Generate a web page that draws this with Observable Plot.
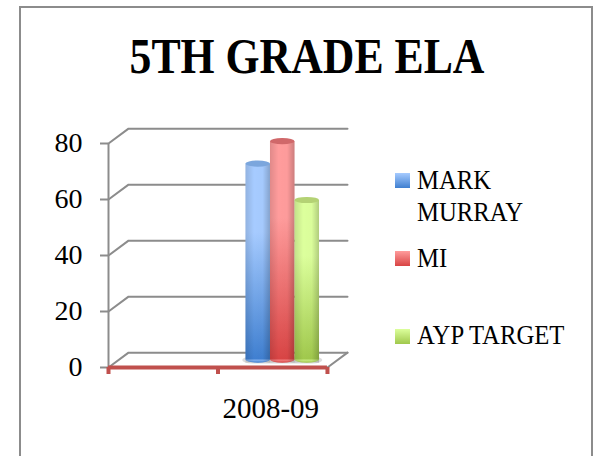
<!DOCTYPE html>
<html><head><meta charset="utf-8">
<script src="https://cdn.jsdelivr.net/npm/d3@7"></script>
<script src="https://cdn.jsdelivr.net/npm/@observablehq/plot@0.6"></script>
<style>
html,body{margin:0;padding:0;background:#fff}
#frame{position:absolute;left:0;top:0;width:593px;height:456px;overflow:hidden;font-family:"Liberation Serif",serif;color:#000}
#border{position:absolute;left:19px;top:6px;width:570px;height:470px;border:2px solid #8c8c8c}
#title{position:absolute;left:20px;width:574px;top:24px;text-align:center;font-size:50px;font-weight:bold;line-height:64px;white-space:nowrap;transform:scaleX(0.875);transform-origin:center}
#chart{position:absolute;left:0;top:0}
#chart svg{display:block}
.lg{position:absolute;left:417px;font-size:27px;line-height:32px;white-space:nowrap;transform:scaleX(0.915);transform-origin:left}
.sw{position:absolute;left:395px;width:15px;height:15px}
</style></head><body>
<div id="frame"><div id="border"></div><div id="title"></div><div id="chart"></div><div id="legend"></div></div>
<script>
const titleText = "5TH GRADE ELA";
const categories = ["", "2008-09"];
const series = ["MARK MURRAY", "MI", "AYP TARGET"];
const values = [70, 78, 57];
const ticks = [0, 20, 40, 60, 80];
const light = ["#a6cbff", "#ff9c9c", "#dcff9c"];
const dark = ["#3f7fd0", "#d84444", "#a0c84c"];
const capColor = ["#7ba6dd", "#d0686a", "#b4d274"];

const depthX = 0.183, depthY = 5.3;   // oblique offset of back wall
const barW = 0.224, barCentre = 1.5 + depthX / 2;

const gridPts = ticks.flatMap(v => [
  {z: v, x: 0, y: v},
  {z: v, x: depthX, y: v + depthY},
  {z: v, x: 2 + depthX, y: v + depthY}
]);
const floorEdge = [{x: 2, y: 0}, {x: 2 + depthX, y: depthY}];
const bars = values.map((v, i) => ({
  i, v, name: series[i],
  x1: barCentre + (i - 1) * barW - barW / 2,
  x2: barCentre + (i - 1) * barW + barW / 2,
  y0: depthY / 2,
  top: v + depthY / 2
}));

const defs = () => {
  const ns = "http://www.w3.org/2000/svg";
  const d = document.createElementNS(ns, "defs");
  d.innerHTML = series.map((s, i) =>
    `<linearGradient id="g${i}" x1="0" y1="0" x2="0" y2="1"><stop offset="0" stop-color="${light[i]}"/><stop offset="0.35" stop-color="${light[i]}"/><stop offset="1" stop-color="${dark[i]}"/></linearGradient>`).join("") +
    `<linearGradient id="shade" x1="0" y1="0" x2="1" y2="0"><stop offset="0" stop-color="#000" stop-opacity="0.12"/><stop offset="0.35" stop-color="#000" stop-opacity="0"/><stop offset="0.7" stop-color="#000" stop-opacity="0.01"/><stop offset="1" stop-color="#000" stop-opacity="0.2"/></linearGradient>`;
  return d;
};

const capH = 1.1;
const plot = Plot.plot({
  width: 593, height: 456,
  marginLeft: 108, marginRight: 246, marginTop: 127, marginBottom: 89,
  style: {background: "transparent", fontFamily: "'Liberation Serif',serif", overflow: "visible"},
  x: {type: "linear", domain: [0, 2 + depthX], axis: null},
  y: {type: "linear", domain: [0, 240 / 2.8], axis: null},
  marks: [
    defs,
    Plot.line(gridPts, {x: "x", y: "y", z: "z", stroke: "#8c8c8c", strokeWidth: 2}),
    Plot.line(floorEdge, {x: "x", y: "y", stroke: "#8c8c8c", strokeWidth: 2}),
    Plot.ruleX([0], {y1: 0, y2: 80, stroke: "#8c8c8c", strokeWidth: 2}),
    Plot.axisY(ticks, {anchor: "left", tickSize: 8, tickPadding: 18, stroke: "#8c8c8c", strokeWidth: 2, fontSize: 28, fill: "#000", label: null, tickFormat: d => d}),
    Plot.rect([bars[0]], {x1: d => bars[0].x1 - 0.03, x2: d => bars[2].x2 + 0.03, y1: d => d.y0 - capH - 0.3, y2: d => d.y0 + capH, fill: "#c4c4c4", fillOpacity: 0.6, rx: 10}),
    Plot.rect(bars, {x1: "x1", x2: "x2", y1: d => d.y0 - capH, y2: d => d.y0 + capH, fill: d => `url(#g${d.i})`, rx: 12}),
    Plot.rect(bars, {x1: "x1", x2: "x2", y1: "y0", y2: "top", fill: d => `url(#g${d.i})`}),
    Plot.rect(bars, {x1: "x1", x2: "x2", y1: d => d.y0 - capH, y2: "top", fill: "url(#shade)"}),
    Plot.rect(bars, {x1: "x1", x2: "x2", y1: d => d.top - capH, y2: d => d.top + capH, fill: d => capColor[d.i], rx: 12}),
    Plot.ruleY([0], {x1: 0, x2: 2, stroke: "#c0504d", strokeWidth: 4}),
    Plot.ruleX([0, 1, 2], {y1: 0, y2: -2.5, stroke: "#c0504d", strokeWidth: 4}),
    Plot.text([categories[1]], {x: 1.5, y: 0, dx: -2, dy: 41, text: d => d, fontSize: 29, fill: "#000"})
  ]
});
document.getElementById("chart").append(plot);
document.getElementById("title").textContent = titleText;

const legendTop = [168, 246, 323];
const swTop = [173, 251, 329];
const lg = document.getElementById("legend");
series.forEach((s, i) => {
  const sw = document.createElement("div");
  sw.className = "sw";
  sw.style.top = swTop[i] + "px";
  sw.style.background = `linear-gradient(${light[i]},${dark[i]})`;
  lg.append(sw);
  const t = document.createElement("div");
  t.className = "lg";
  t.style.top = (legendTop[i]-4) + "px";
  t.innerHTML = i === 0 ? "MARK<br>MURRAY" : s;
  lg.append(t);
});
</script></body></html>
